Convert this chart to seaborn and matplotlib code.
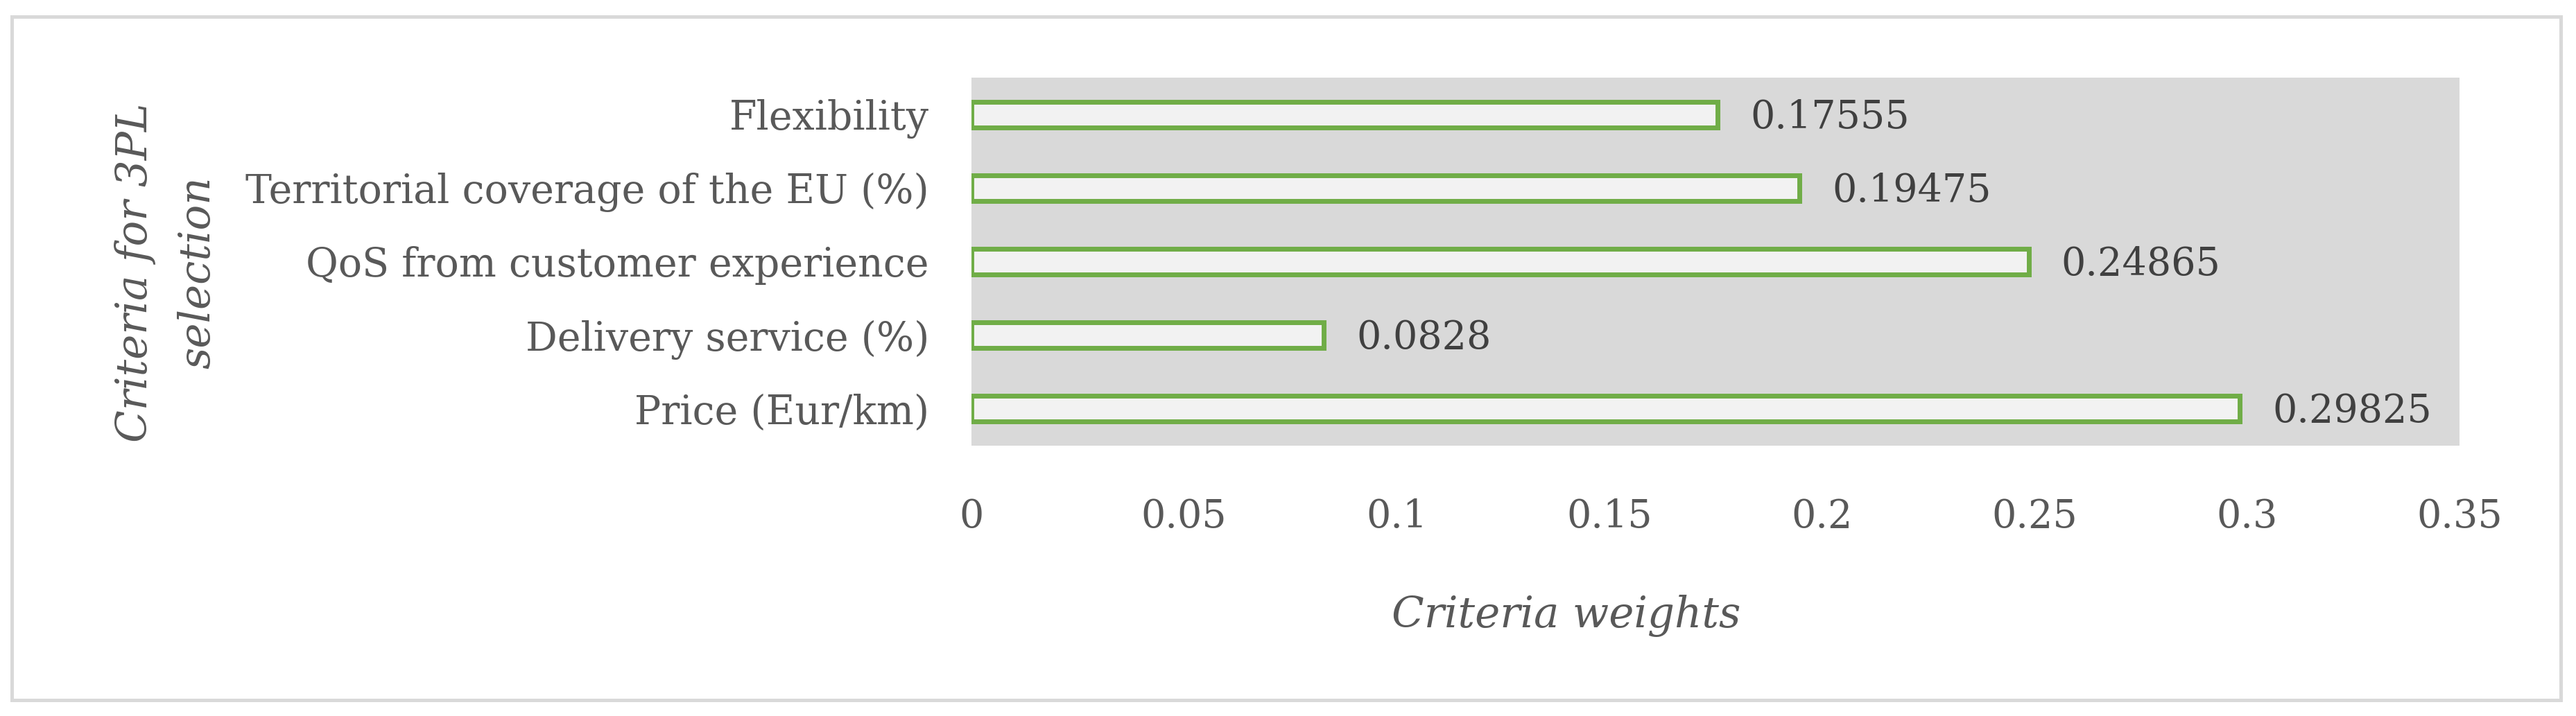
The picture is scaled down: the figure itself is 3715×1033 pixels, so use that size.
import matplotlib
matplotlib.use("Agg")
import matplotlib.pyplot as plt
import seaborn as sns
import pandas as pd
from matplotlib.patches import Rectangle

categories = ["Flexibility", "Territorial coverage of the EU (%)",
              "QoS from customer experience", "Delivery service (%)", "Price (Eur/km)"]
weights = [0.17555, 0.19475, 0.24865, 0.0828, 0.29825]
value_labels = ["0.17555", "0.19475", "0.24865", "0.0828", "0.29825"]
x_ticks = [0, 0.05, 0.1, 0.15, 0.2, 0.25, 0.3, 0.35]
x_tick_labels = ["0", "0.05", "0.1", "0.15", "0.2", "0.25", "0.3", "0.35"]

sns.set_theme(style="white")
plt.rcParams['font.family'] = ['DejaVu Serif', 'Liberation Serif']

W, H = 3716, 1033
dpi = 100
fig = plt.figure(figsize=(W / dpi, H / dpi), dpi=dpi)
fig.patch.set_facecolor("white")

ax = fig.add_axes([1401 / W, 1 - 643 / H, (3547 - 1401) / W, (643 - 112) / H])
ax.set_facecolor("#D9D9D9")

df = pd.DataFrame({"cat": categories, "w": weights})
sns.barplot(data=df, x="w", y="cat", order=categories, color="#F2F2F2",
            edgecolor="#70AD47", linewidth=5, width=0.35, ax=ax, saturation=1)

ax.set_xlim(0, 0.35)
ax.set_xticks(x_ticks)
ax.set_xticklabels(x_tick_labels)
ax.tick_params(axis="x", length=0, pad=54, labelsize=40, labelcolor="#595959")
ax.tick_params(axis="y", length=0, pad=44, labelsize=41, labelcolor="#595959")
for s in ax.spines.values():
    s.set_visible(False)

for i, (v, lab) in enumerate(zip(weights, value_labels)):
    ax.annotate(lab, xy=(v, i), xytext=(34, -3), textcoords="offset points",
                ha="left", va="center", fontsize=40, color="#404040")

ax.set_xlabel("")
ax.set_ylabel("")
fig.text(2259 / W, 1 - 889 / H, "Criteria weights", ha="center", va="center",
         fontsize=44, style="italic", color="#595959")
fig.text(240 / W, 1 - 393 / H, "Criteria for 3PL\nselection", rotation=90,
         ha="center", va="center", multialignment="center", fontsize=44,
         style="italic", color="#595959", linespacing=1.65)

fig.patches.append(Rectangle((17 / W, 1 - 1010 / H), (3693 - 17) / W, (1010 - 24) / H,
                             transform=fig.transFigure, fill=False,
                             edgecolor="#D9D9D9", linewidth=3.6))

fig.savefig("out.png", dpi=dpi, facecolor="white")
